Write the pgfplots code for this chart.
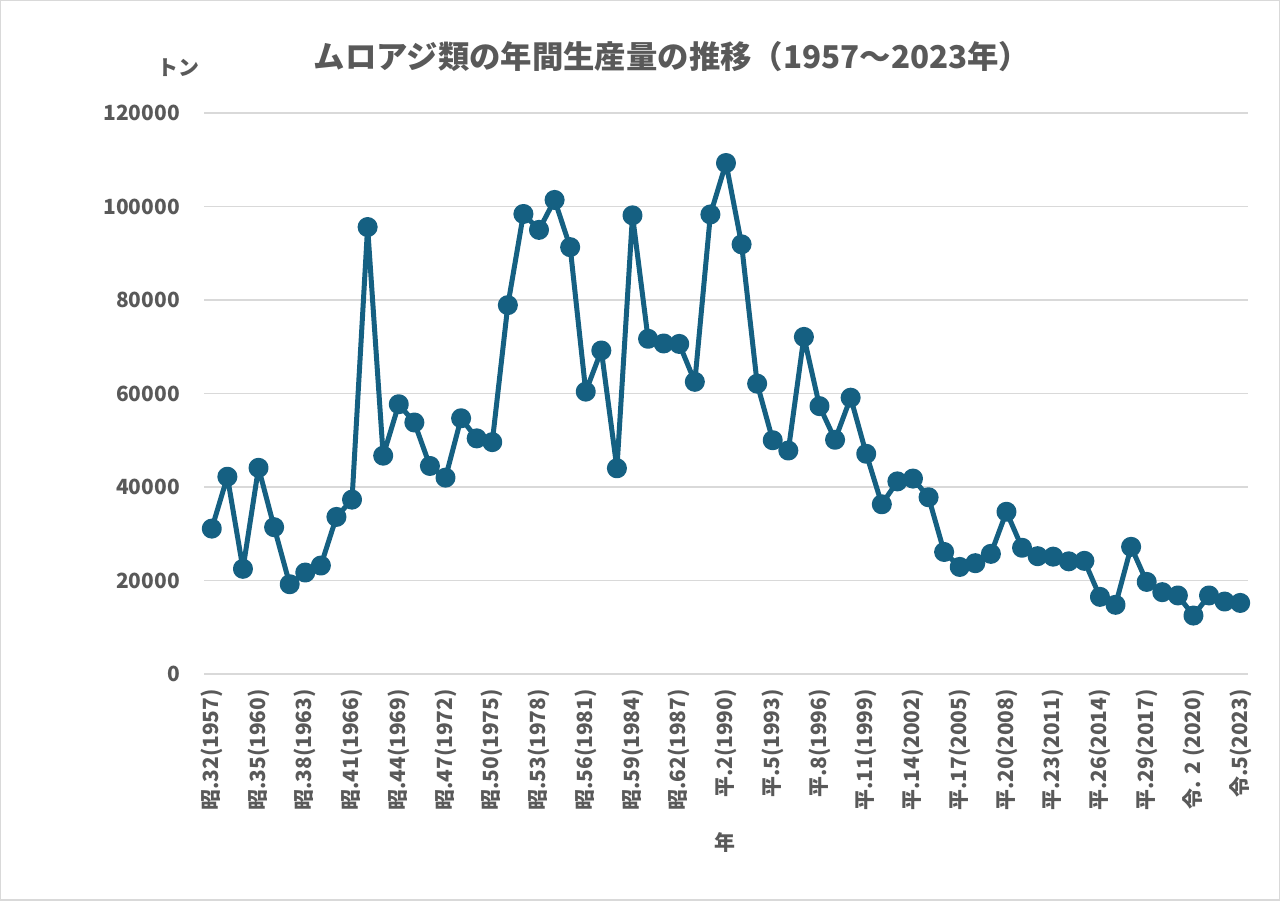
\documentclass[border=0pt]{standalone}
\usepackage{pgfplots}
\pgfplotsset{compat=1.18}
\usepackage{fontspec}
\setmainfont{Noto Sans CJK JP}
\definecolor{lineblue}{HTML}{156082}
\definecolor{txtgray}{HTML}{595959}
\definecolor{gridgray}{HTML}{D9D9D9}
\pgfplotstableread{
year value
1957 31100
1958 42200
1959 22500
1960 44100
1961 31400
1962 19200
1963 21700
1964 23200
1965 33600
1966 37300
1967 95600
1968 46700
1969 57700
1970 53800
1971 44500
1972 42000
1973 54700
1974 50400
1975 49600
1976 78900
1977 98400
1978 95000
1979 101400
1980 91300
1981 60400
1982 69200
1983 44000
1984 98100
1985 71700
1986 70700
1987 70600
1988 62500
1989 98300
1990 109300
1991 91900
1992 62100
1993 50000
1994 47800
1995 72100
1996 57300
1997 50100
1998 59100
1999 47100
2000 36300
2001 41200
2002 41800
2003 37800
2004 26100
2005 22900
2006 23700
2007 25700
2008 34700
2009 27000
2010 25200
2011 25100
2012 24100
2013 24200
2014 16500
2015 14800
2016 27200
2017 19700
2018 17500
2019 16800
2020 12500
2021 16800
2022 15500
2023 15200
}\datatable
\begin{document}
\begin{tikzpicture}[x=1bp,y=1bp]
\path[use as bounding box, draw=gridgray, line width=1.5bp, fill=white] (0.75,0.75) rectangle (1279.25,900.25);
\begin{axis}[
  at={(204bp,227bp)}, anchor=south west,
  scale only axis, width=1044bp, height=561bp,
  xmin=1956.5, xmax=2023.5, ymin=0, ymax=120000,
  axis line style={draw=none},
  major tick length=0pt,
  ymajorgrids, major grid style={gridgray, line width=1.6bp},
  ytick={0,20000,...,120000},
  scaled y ticks=false,
  /pgf/number format/.cd, assume math mode=true, fixed, 1000 sep={},
  /pgfplots/.cd,
  yticklabel style={font=\fontsize{21}{24}\selectfont\bfseries, text=txtgray, inner sep=0pt, xshift=-24bp},
  xtick={1957,1960,...,2023},
  xticklabels={昭.32(1957),昭.35(1960),昭.38(1963),昭.41(1966),昭.44(1969),昭.47(1972),昭.50(1975),昭.53(1978),昭.56(1981),昭.59(1984),昭.62(1987),平.2(1990),平.5(1993),平.8(1996),平.11(1999),平.14(2002),平.17(2005),平.20(2008),平.23(2011),平.26(2014),平.29(2017),令. 2 (2020),令.5(2023)},
  xticklabel style={font=\fontsize{21}{24}\selectfont\bfseries, text=txtgray, rotate=90, anchor=east, inner sep=0pt, xshift=-15bp},
  clip=false,
]
\addplot[lineblue, line width=5bp, line join=round, line cap=round, mark=*, mark size=7.5bp, mark options={fill=lineblue, draw=none}] table[x=year, y=value] {\datatable};
\end{axis}
\node[font=\fontsize{31.5}{36}\selectfont\bfseries, text=txtgray] at (672,844) {ムロアジ類の年間生産量の推移（1957～2023年）};
\node[font=\fontsize{21}{24}\selectfont\bfseries, text=txtgray] at (178,833) {トン};
\node[font=\fontsize{21}{24}\selectfont\bfseries, text=txtgray] at (725,58) {年};
\end{tikzpicture}
\end{document}
